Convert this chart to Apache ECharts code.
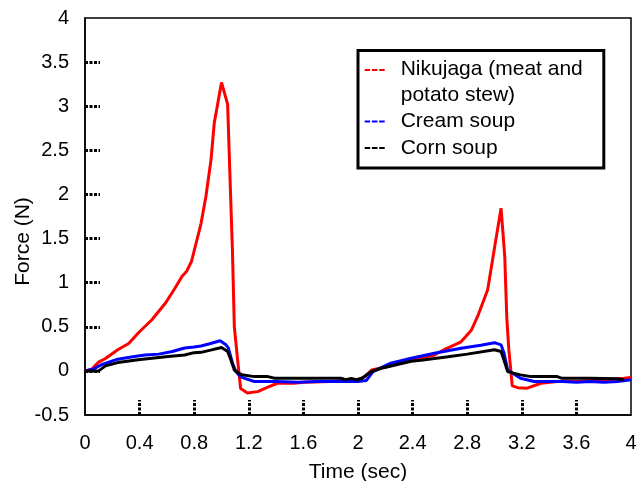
<!DOCTYPE html>
<html>
<head>
<meta charset="utf-8">
<script src="https://cdn.jsdelivr.net/npm/echarts@6/dist/echarts.min.js"></script>
<style>
    html, body { margin: 0; padding: 0; background: #fff; }
    #main { width: 637px; height: 481px; }
</style>
</head>
<body>
<div id="main"></div>
<script>
// 数据
var nikuTime = [0, 0.05, 0.1, 0.15, 0.24, 0.32, 0.39, 0.49, 0.59, 0.66, 0.71, 0.745, 0.78, 0.85, 0.886, 0.923, 0.947, 1.0, 1.045, 1.06, 1.08, 1.094, 1.118, 1.14, 1.19, 1.265, 1.34, 1.41, 1.53, 1.6, 1.8, 1.9, 2.0, 2.05, 2.1, 2.22, 2.41, 2.56, 2.63, 2.68, 2.755, 2.83, 2.877, 2.95, 2.99, 3.048, 3.075, 3.09, 3.105, 3.13, 3.17, 3.24, 3.34, 3.46, 3.6, 3.83, 3.95, 4.0];
var nikuForce = [0, 0.02, 0.1, 0.14, 0.24, 0.31, 0.43, 0.58, 0.77, 0.94, 1.07, 1.13, 1.24, 1.67, 1.98, 2.39, 2.81, 3.27, 3.02, 2.3, 1.37, 0.5, 0.125, -0.2, -0.25, -0.235, -0.185, -0.14, -0.14, -0.13, -0.12, -0.11, -0.1, -0.065, 0.01, 0.05, 0.13, 0.18, 0.24, 0.275, 0.33, 0.46, 0.62, 0.92, 1.3, 1.845, 1.3, 0.6, 0.24, -0.17, -0.19, -0.196, -0.14, -0.12, -0.12, -0.1, -0.083, -0.075];

var creamTime = [0, 0.06, 0.12, 0.24, 0.35, 0.44, 0.54, 0.64, 0.73, 0.8, 0.85, 0.92, 0.99, 1.03, 1.05, 1.08, 1.106, 1.14, 1.17, 1.24, 1.4, 1.56, 1.7, 1.9, 2.0, 2.06, 2.11, 2.24, 2.39, 2.56, 2.755, 2.9, 3.0, 3.048, 3.07, 3.096, 3.19, 3.29, 3.5, 3.6, 3.7, 3.8, 3.9, 4.0];
var creamForce = [0, 0.02, 0.07, 0.133, 0.16, 0.18, 0.19, 0.22, 0.26, 0.27, 0.283, 0.31, 0.342, 0.3, 0.26, 0.09, -0.01, -0.065, -0.085, -0.12, -0.12, -0.13, -0.12, -0.12, -0.12, -0.11, -0.008, 0.087, 0.144, 0.2, 0.257, 0.29, 0.32, 0.295, 0.2, 0.01, -0.083, -0.12, -0.12, -0.13, -0.12, -0.13, -0.12, -0.1];

var cornTime = [0, 0.1, 0.15, 0.24, 0.39, 0.49, 0.61, 0.73, 0.8, 0.85, 0.92, 1.0, 1.045, 1.07, 1.094, 1.12, 1.15, 1.24, 1.34, 1.39, 1.6, 1.875, 1.91, 1.95, 1.99, 2.03, 2.095, 2.17, 2.39, 2.46, 2.66, 2.8, 3.0, 3.048, 3.07, 3.096, 3.19, 3.27, 3.46, 3.49, 3.7, 3.9, 3.95];
var cornForce = [0, 0, 0.057, 0.094, 0.125, 0.144, 0.162, 0.18, 0.207, 0.21, 0.235, 0.265, 0.22, 0.12, 0.01, -0.02, -0.045, -0.065, -0.065, -0.083, -0.083, -0.083, -0.1, -0.085, -0.1, -0.083, -0.01, 0.03, 0.11, 0.12, 0.16, 0.19, 0.24, 0.22, 0.12, -0.008, -0.045, -0.065, -0.065, -0.083, -0.083, -0.09, -0.1];

var seriesNames = ['Nikujaga (meat and\npotato stew)', 'Cream soup', 'Corn soup'];
var seriesColors = ['#ff0000', '#0000ff', '#000000'];

// 刻度（两端落在边框上，不画刻度线）
var xTicks = [0, 0.4, 0.8, 1.2, 1.6, 2, 2.4, 2.8, 3.2, 3.6, 4];
var yTicks = [-0.5, 0, 0.5, 1, 1.5, 2, 2.5, 3, 3.5, 4];

// 图例 "---" 图标；第一项两行文字，图标要对齐第一行
var dashIcon = 'path://M0,0h5.5v2h-5.5zM7.25,0h5.5v2h-5.5zM14.5,0h5.5v2h-5.5z';
var dashIconTop = 'path://M0,0h5.5v2h-5.5zM7.25,0h5.5v2h-5.5zM14.5,0h5.5v2h-5.5zM19.99,25.99h0.01v0.01h-0.01z';

// 时间和力合成点
var zipData = function (xs, ys) {
    var data = [];
    for (let i in xs) {
        data.push([xs[i], ys[i]]);
    }
    return data;
};

var lineSeries = function (name, color, data) {
    return {
        name: name,
        type: 'line',
        symbol: 'none',
        smooth: false,
        lineStyle: { color: color, width: 3 },
        itemStyle: { color: color },
        data: data
    };
};

var font = 'Liberation Sans, Arial, sans-serif';
var tickStyle = { color: '#000', width: 3, type: [3, 1.5] };

var my_chart = echarts.init(document.getElementById('main'));
var option = {
    animation: false,
    grid: {
        left: 85,
        right: 6,
        top: 18,
        bottom: 66,
        outerBoundsMode: 'none',
        show: true,
        borderColor: '#000',
        borderWidth: 1.5,
        backgroundColor: 'transparent'
    },
    legend: {
        orient: 'vertical',
        left: 358,
        top: 50.5,
        padding: [5.5, 21, 7, 6.7],
        itemWidth: 20,
        itemHeight: 26,
        itemGap: 0.5,
        borderColor: '#000',
        borderWidth: 3,
        backgroundColor: '#fff',
        textStyle: {
            fontFamily: font,
            fontSize: 21,
            color: '#000',
            lineHeight: 26,
            padding: [0, 0, 0, 11]
        },
        data: [
            { name: seriesNames[0], icon: dashIconTop },
            { name: seriesNames[1], icon: dashIcon },
            { name: seriesNames[2], icon: dashIcon }
        ]
    },
    xAxis: {
        type: 'value',
        min: xTicks[0],
        max: xTicks[xTicks.length - 1],
        interval: 0.4,
        name: 'Time (sec)',
        nameLocation: 'middle',
        nameGap: 47,
        nameTextStyle: { fontFamily: font, fontSize: 21, color: '#000' },
        axisLine: { onZero: false, lineStyle: { color: '#000', width: 1.5 } },
        axisTick: { inside: true, length: 15, lineStyle: tickStyle, customValues: xTicks.slice(1, -1) },
        axisLabel: { fontFamily: font, fontSize: 20, color: '#000', margin: 18 },
        splitLine: { show: false }
    },
    yAxis: {
        type: 'value',
        min: yTicks[0],
        max: yTicks[yTicks.length - 1],
        interval: 0.5,
        name: 'Force (N)',
        nameLocation: 'middle',
        nameGap: 51,
        nameMoveOverlap: false,
        nameTextStyle: { fontFamily: font, fontSize: 21, color: '#000', padding: [0, 50, 0, 0] },
        axisLine: { onZero: false, lineStyle: { color: '#000', width: 1.5 } },
        axisTick: { inside: true, length: 15, lineStyle: tickStyle, customValues: yTicks.slice(1, -1) },
        axisLabel: { fontFamily: font, fontSize: 20, color: '#000', margin: 16 },
        splitLine: { show: false }
    },
    series: [
        lineSeries(seriesNames[0], seriesColors[0], zipData(nikuTime, nikuForce)),
        lineSeries(seriesNames[1], seriesColors[1], zipData(creamTime, creamForce)),
        lineSeries(seriesNames[2], seriesColors[2], zipData(cornTime, cornForce))
    ]
};
my_chart.setOption(option);
</script>
</body>
</html>
